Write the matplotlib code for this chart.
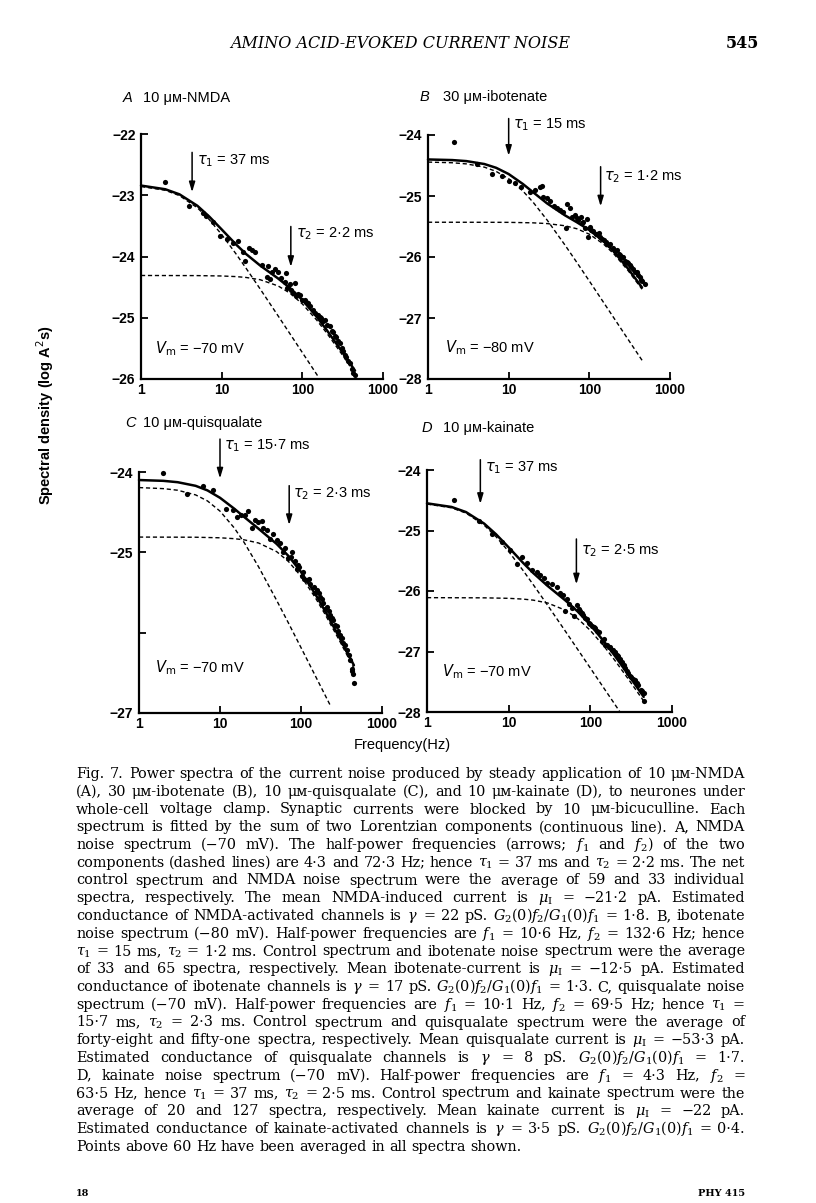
import matplotlib
matplotlib.use("Agg")
import matplotlib.pyplot as plt

W, H = 816, 1203

# ---------------- data ----------------
# Panel A: 10 uM-NMDA
A_pts_f = [2, 3.9, 5.9, 6.4, 7.9, 9.5, 11.8, 13.9, 16, 18.5, 19.3, 22, 24, 26, 31.8, 36, 38, 39.5, 41.6,
           45.5, 50, 55, 60.5, 63.5, 65, 70, 72, 77, 81, 84, 88, 93, 98, 107, 110, 118, 125, 136, 145,
           157, 165, 171, 180, 189, 200, 218, 230, 240, 255, 264, 280, 291, 310, 320, 340, 352, 370,
           387, 410, 426, 445]
A_pts_y = [-22.79, -23.17, -23.29, -23.34, -23.44, -23.66, -23.72, -23.78, -23.74, -23.92, -24.08, -23.86,
           -23.89, -23.92, -24.14, -24.33, -24.16, -24.37, -24.25, -24.21, -24.26, -24.35, -24.41, -24.27,
           -24.52, -24.45, -24.55, -24.60, -24.44, -24.65, -24.62, -24.63, -24.71, -24.71, -24.75, -24.76,
           -24.80, -24.87, -24.92, -24.95, -24.98, -25.01, -25.06, -25.04, -25.12, -25.14, -25.22, -25.23,
           -25.30, -25.31, -25.38, -25.42, -25.50, -25.55, -25.60, -25.64, -25.70, -25.74, -25.83, -25.91,
           -25.93]
A_fit_f = [1, 2, 3, 5, 7, 10, 15, 20, 30, 50, 70, 100, 150, 200, 300, 450]
A_fit_y = [-22.842, -22.902, -22.985, -23.172, -23.347, -23.558, -23.801, -23.958, -24.147, -24.358,
           -24.512, -24.709, -24.982, -25.198, -25.525, -25.864]
A_c1_f = [1, 2, 3, 5, 7, 10, 15, 20, 30, 50, 70, 100, 150, 160]
A_c1_y = [-22.857, -22.919, -23.006, -23.205, -23.396, -23.641, -23.954, -24.189, -24.530, -24.968,
          -25.259, -25.568, -25.920, -25.976]
A_c2_f = [1, 5, 10, 15, 20, 30, 50, 70, 100, 150, 200, 300, 450]
A_c2_y = [-24.310, -24.312, -24.318, -24.328, -24.342, -24.379, -24.480, -24.597, -24.774, -25.035,
          -25.247, -25.571, -25.909]

# Panel B: 30 uM-ibotenate
B_pts_f = [2.1, 4.1, 6.2, 8.2, 10.1, 12, 14.1, 18.5, 21, 24.5, 25.7, 27, 29.6, 32.6, 36, 39.6, 43.5, 47.7,
           51, 52.5, 57.6, 60.4, 66.4, 70, 73, 78, 80, 84, 88, 93, 97, 102, 105, 112, 120, 123, 130, 136,
           145, 150, 160, 164, 175, 181, 198, 210, 218, 230, 240, 250, 264, 280, 290, 300, 318, 330, 350,
           370, 385, 400, 424, 440, 456, 485]
B_pts_y = [-24.11, -24.48, -24.64, -24.67, -24.75, -24.78, -24.85, -24.93, -24.90, -24.85, -24.84, -25.01,
           -25.04, -25.09, -25.17, -25.20, -25.23, -25.26, -25.53, -25.13, -25.20, -25.35, -25.31, -25.36,
           -25.39, -25.34, -25.45, -25.42, -25.53, -25.37, -25.67, -25.50, -25.55, -25.58, -25.63, -25.62,
           -25.60, -25.67, -25.70, -25.72, -25.76, -25.78, -25.80, -25.79, -25.86, -25.90, -25.89, -25.95,
           -25.97, -26.00, -26.00, -26.06, -26.08, -26.10, -26.13, -26.16, -26.19, -26.25, -26.24, -26.30,
           -26.32, -26.38, -26.40, -26.44]
B_fit_f = [1, 2, 3, 5, 7, 10, 15, 20, 30, 50, 70, 100, 150, 200, 300, 450]
B_fit_y = [-24.401, -24.411, -24.428, -24.476, -24.538, -24.640, -24.803, -24.936, -25.122, -25.318,
           -25.430, -25.558, -25.742, -25.908, -26.186, -26.500]
B_c1_f = [1, 2, 3, 5, 7, 10, 15, 20, 30, 50, 70, 100, 150, 200, 300, 470]
B_c1_y = [-24.444, -24.455, -24.474, -24.527, -24.597, -24.717, -24.918, -25.099, -25.395, -25.806,
          -26.089, -26.394, -26.744, -26.993, -27.344, -27.73]
B_c2_f = [1, 5, 10, 20, 30, 50, 70, 100, 150, 200, 300, 450]
B_c2_y = [-25.430, -25.431, -25.432, -25.440, -25.452, -25.488, -25.537, -25.626, -25.788, -25.945,
          -26.217, -26.528]

# Panel C: 10 uM-quisqualate
C_pts_f = [2.0, 3.96, 6.1, 8.1, 11.9, 14.4, 16, 18, 20.4, 22.4, 24.6, 27, 29.8, 32.6, 34.3, 37.8, 41.5,
           45.6, 50, 55, 60.6, 63.6, 70, 75, 77, 84.7, 88.8, 92, 95.6, 102, 105, 109, 118, 125, 130, 143,
           150, 157, 165, 172, 180, 189, 200, 208, 220, 228, 240, 251, 265, 276, 290, 303, 320, 334, 350,
           367, 390, 403, 422, 430, 443, 455]
C_pts_y = [-24.01, -24.28, -24.17, -24.23, -24.46, -24.47, -24.56, -24.53, -24.53, -24.48, -24.70, -24.60,
           -24.62, -24.61, -24.70, -24.72, -24.83, -24.77, -24.85, -24.89, -25.00, -24.95, -25.07, -25.06,
           -24.99, -25.11, -25.21, -25.16, -25.18, -25.29, -25.25, -25.33, -25.35, -25.33, -25.39, -25.43,
           -25.50, -25.47, -25.51, -25.55, -25.58, -25.63, -25.70, -25.68, -25.73, -25.78, -25.82, -25.84,
           -25.90, -25.92, -25.98, -26.03, -26.07, -26.13, -26.15, -26.21, -26.28, -26.34, -26.48, -26.45,
           -26.52, -26.63]
C_fit_f = [1, 2, 3, 5, 7, 10, 15, 20, 30, 50, 70, 100, 150, 200, 300, 450]
C_fit_y = [-24.100, -24.110, -24.127, -24.172, -24.229, -24.321, -24.457, -24.562, -24.707, -24.895,
           -25.045, -25.244, -25.519, -25.737, -26.065, -26.406]
C_c1_f = [1, 2, 3, 5, 7, 10, 15, 20, 30, 50, 70, 100, 150, 200, 230]
C_c1_y = [-24.194, -24.207, -24.227, -24.285, -24.360, -24.487, -24.696, -24.882, -25.182, -25.597,
          -25.880, -26.186, -26.536, -26.785, -26.906]
C_c2_f = [1, 5, 10, 15, 20, 30, 50, 70, 100, 150, 200, 300, 450]
C_c2_y = [-24.810, -24.812, -24.819, -24.830, -24.845, -24.884, -24.991, -25.114, -25.297, -25.563,
          -25.778, -26.103, -26.443]

# Panel D: 10 uM-kainate
D_pts_f = [2.12, 4.3, 6.25, 8.3, 10.3, 12.6, 14.6, 16.7, 19.3, 22.2, 24.4, 26.8, 29.4, 33.8, 39, 42.8, 46,
           49, 51.5, 55.5, 59.4, 62.5, 68.5, 72, 75, 78, 81, 86.5, 90, 95, 100, 104, 110, 115, 120, 126,
           138, 145, 152, 160, 167, 175, 183, 190, 201, 210, 220, 230, 242, 255, 265, 280, 291, 305, 319,
           335, 350, 370, 386, 413, 430, 448, 458]
D_pts_y = [-24.49, -24.85, -25.06, -25.19, -25.33, -25.56, -25.44, -25.53, -25.66, -25.69, -25.73, -25.78,
           -25.86, -25.89, -25.94, -26.03, -26.07, -26.33, -26.14, -26.21, -26.28, -26.42, -26.23, -26.30,
           -26.33, -26.36, -26.39, -26.44, -26.47, -26.53, -26.55, -26.58, -26.60, -26.61, -26.66, -26.67,
           -26.83, -26.80, -26.89, -26.90, -26.92, -26.93, -26.97, -26.98, -27.00, -27.05, -27.08, -27.12,
           -27.17, -27.22, -27.28, -27.32, -27.36, -27.40, -27.42, -27.45, -27.47, -27.52, -27.56, -27.64,
           -27.66, -27.69, -27.81]
D_fit_f = [1, 2, 3, 5, 7, 10, 15, 20, 30, 50, 70, 100, 150, 200, 300, 450]
D_fit_y = [-24.551, -24.611, -24.695, -24.885, -25.062, -25.279, -25.534, -25.703, -25.916, -26.161,
           -26.339, -26.559, -26.849, -27.073, -27.407, -27.750]
D_c1_f = [1, 2, 3, 5, 7, 10, 15, 20, 30, 50, 70, 100, 150, 200, 230]
D_c1_y = [-24.563, -24.625, -24.712, -24.911, -25.102, -25.347, -25.660, -25.895, -26.236, -26.674,
          -26.965, -27.274, -27.626, -27.875, -27.997]
D_c2_f = [1, 5, 10, 15, 20, 30, 50, 70, 100, 150, 200, 300, 450]
D_c2_y = [-26.110, -26.113, -26.121, -26.134, -26.151, -26.198, -26.320, -26.456, -26.652, -26.928,
          -27.148, -27.478, -27.819]

X_TICKS = [1, 10, 100, 1000]
X_LABELS = ["1", "10", "100", "1000"]
A_YTICKS = [-22, -23, -24, -25, -26]
B_YTICKS = [-24, -25, -26, -27, -28]
C_YTICKS = [-24, -25, -26, -27]
C_YLABELS = ["\u221224", "\u221225", "", "\u221227"]
D_YTICKS = [-24, -25, -26, -27, -28]

UM = "\u03bc\u1d0d"  # micro + small-capital M
TITLES = [("A", "10 " + UM + "-NMDA"), ("B", "30 " + UM + "-ibotenate"),
          ("C", "10 " + UM + "-quisqualate"), ("D", "10 " + UM + "-kainate")]
TAU1 = ["37", "15", "15\u00b77", "37"]
TAU2 = ["2\u00b72", "1\u00b72", "2\u00b73", "2\u00b75"]
VM = ["\u221270", "\u221280", "\u221270", "\u221270"]

CAPTION = [
    "Fig. 7. Power spectra of the current noise produced by steady application of 10 " + UM + "-NMDA",
    "(A), 30 " + UM + "-ibotenate (B), 10 " + UM + "-quisqualate (C), and 10 " + UM + "-kainate (D), to neurones under",
    "whole-cell voltage clamp. Synaptic currents were blocked by 10 " + UM + "-bicuculline. Each",
    "spectrum is fitted by the sum of two Lorentzian components (continuous line). A, NMDA",
    "noise spectrum (\u221270 mV). The half-power frequencies (arrows; $f_1$ and $f_2$) of the two",
    "components (dashed lines) are 4\u00b73 and 72\u00b73 Hz; hence $\\tau_1$ = 37 ms and $\\tau_2$ = 2\u00b72 ms. The net",
    "control spectrum and NMDA noise spectrum were the average of 59 and 33 individual",
    "spectra, respectively. The mean NMDA-induced current is $\\mu_\\mathrm{I}$ = \u221221\u00b72 pA. Estimated",
    "conductance of NMDA-activated channels is $\\gamma$ = 22 pS. $G_2(0)f_2/G_1(0)f_1$ = 1\u00b78. B, ibotenate",
    "noise spectrum (\u221280 mV). Half-power frequencies are $f_1$ = 10\u00b76 Hz, $f_2$ = 132\u00b76 Hz; hence",
    "$\\tau_1$ = 15 ms, $\\tau_2$ = 1\u00b72 ms. Control spectrum and ibotenate noise spectrum were the average",
    "of 33 and 65 spectra, respectively. Mean ibotenate-current is $\\mu_\\mathrm{I}$ = \u221212\u00b75 pA. Estimated",
    "conductance of ibotenate channels is $\\gamma$ = 17 pS. $G_2(0)f_2/G_1(0)f_1$ = 1\u00b73. C, quisqualate noise",
    "spectrum (\u221270 mV). Half-power frequencies are $f_1$ = 10\u00b71 Hz, $f_2$ = 69\u00b75 Hz; hence $\\tau_1$ =",
    "15\u00b77 ms, $\\tau_2$ = 2\u00b73 ms. Control spectrum and quisqualate spectrum were the average of",
    "forty-eight and fifty-one spectra, respectively. Mean quisqualate current is $\\mu_\\mathrm{I}$ = \u221253\u00b73 pA.",
    "Estimated conductance of quisqualate channels is $\\gamma$ = 8 pS. $G_2(0)f_2/G_1(0)f_1$ = 1\u00b77.",
    "D, kainate noise spectrum (\u221270 mV). Half-power frequencies are $f_1$ = 4\u00b73 Hz, $f_2$ =",
    "63\u00b75 Hz, hence $\\tau_1$ = 37 ms, $\\tau_2$ = 2\u00b75 ms. Control spectrum and kainate spectrum were the",
    "average of 20 and 127 spectra, respectively. Mean kainate current is $\\mu_\\mathrm{I}$ = \u221222 pA.",
    "Estimated conductance of kainate-activated channels is $\\gamma$ = 3\u00b75 pS. $G_2(0)f_2/G_1(0)f_1$ = 0\u00b74.",
    "Points above 60 Hz have been averaged in all spectra shown.",
]

# ---------------- layout ----------------
SANS = ["Liberation Sans", "DejaVu Sans"]
SERIF = ["DejaVu Serif", "DejaVu Sans"]

fig = plt.figure(figsize=(W / 100, H / 100), dpi=100)


def rect(l, t, r, b):
    return [l / W, 1 - b / H, (r - l) / W, (b - t) / H]


def fx(px):
    return px / W


def fy(py):
    return 1 - py / H


panels = [
    dict(r=rect(141, 134, 383, 379), yl=(-26, -22), yt=A_YTICKS, ylab=None,
         pts=(A_pts_f, A_pts_y), fit=(A_fit_f, A_fit_y), c1=(A_c1_f, A_c1_y), c2=(A_c2_f, A_c2_y),
         ar1=(4.3, -22.30, -22.95), t1=(4.9, -22.44), ar2=(72, -23.51, -24.17), t2=(84, -23.63),
         vm=(1.49, -25.50), title=(123, 143, 98)),
    dict(r=rect(428, 135, 670, 379), yl=(-28, -24), yt=B_YTICKS, ylab=None,
         pts=(B_pts_f, B_pts_y), fit=(B_fit_f, B_fit_y), c1=(B_c1_f, B_c1_y), c2=(B_c2_f, B_c2_y),
         ar1=(10, -23.73, -24.34), t1=(11.4, -23.83), ar2=(138, -24.52, -25.17), t2=(150, -24.68),
         vm=(1.64, -27.49), title=(420, 443, 97)),
    dict(r=rect(139, 472, 382, 713), yl=(-27, -24), yt=C_YTICKS, ylab=C_YLABELS,
         pts=(C_pts_f, C_pts_y), fit=(C_fit_f, C_fit_y), c1=(C_c1_f, C_c1_y), c2=(C_c2_f, C_c2_y),
         ar1=(10, -23.59, -24.08), t1=(11.3, -23.67), ar2=(71.5, -24.17, -24.66), t2=(80, -24.27),
         vm=(1.58, -26.44), title=(125, 143, 423)),
    dict(r=rect(427, 470, 672, 712), yl=(-28, -24), yt=D_YTICKS, ylab=None,
         pts=(D_pts_f, D_pts_y), fit=(D_fit_f, D_fit_y), c1=(D_c1_f, D_c1_y), c2=(D_c2_f, D_c2_y),
         ar1=(4.5, -23.83, -24.56), t1=(5.1, -23.96), ar2=(67.5, -25.14, -25.89), t2=(76, -25.34),
         vm=(1.53, -27.33), title=(422, 443, 428)),
]

for i, p in enumerate(panels):
    ax = fig.add_axes(p["r"])
    ax.set_xscale("log")
    ax.set_xlim(1, 1000)
    ax.set_ylim(*p["yl"])
    for s in ("top", "right"):
        ax.spines[s].set_visible(False)
    for s in ("left", "bottom"):
        ax.spines[s].set_linewidth(1.6)
    ax.set_xticks(X_TICKS)
    ax.set_xticklabels(X_LABELS)
    ax.minorticks_off()
    ax.set_yticks(p["yt"])
    if p["ylab"] is None:
        ax.set_yticklabels(["\u2212%d" % abs(v) for v in p["yt"]])
    else:
        ax.set_yticklabels(p["ylab"])
    ax.tick_params(direction="in", length=5, width=1.3, labelsize=10, pad=4)
    ax.tick_params(axis="x", pad=3)
    for lab in ax.get_xticklabels() + ax.get_yticklabels():
        lab.set_family(SANS)
        lab.set_fontweight("bold")

    ax.plot(*p["c1"], ls=(0, (3.0, 2.0)), color="k", lw=1.0, clip_on=False)
    ax.plot(*p["c2"], ls=(0, (3.0, 2.0)), color="k", lw=1.0, clip_on=False)
    ax.plot(*p["fit"], color="k", lw=1.8, clip_on=False, solid_capstyle="round")
    ax.scatter(*p["pts"], s=14, color="k", linewidths=0, clip_on=False, zorder=3)

    for key in ("ar1", "ar2"):
        f, y0, y1 = p[key]
        ax.annotate("", xy=(f, y1), xytext=(f, y0), annotation_clip=False,
                    arrowprops=dict(arrowstyle="-|>,head_length=0.6,head_width=0.18", lw=1.1,
                                    color="k", shrinkA=0, shrinkB=0))
    ax.text(*p["t1"], "$\\tau_1$ = %s ms" % TAU1[i], fontsize=10.5, family=SANS, va="center",
            ha="left", clip_on=False)
    ax.text(*p["t2"], "$\\tau_2$ = %s ms" % TAU2[i], fontsize=10.5, family=SANS, va="center",
            ha="left", clip_on=False)
    ax.text(*p["vm"], "$V_\\mathrm{m}$ = %s mV" % VM[i], fontsize=10.5, family=SANS, va="center",
            ha="left")

    lx, tx, ty = p["title"]
    fig.text(fx(lx), fy(ty), TITLES[i][0], fontsize=10.5, family=SANS, style="italic",
             va="center", ha="left")
    fig.text(fx(tx), fy(ty), TITLES[i][1], fontsize=10.5, family=SANS, va="center", ha="left")

fig.text(fx(45), fy(415), "Spectral density (log A$^2$s)", rotation=90, fontsize=10.5, family=SANS,
         fontweight="bold", ha="center", va="center")
fig.text(fx(402), fy(745), "Frequency(Hz)", fontsize=10.5, family=SANS, ha="center", va="center")

# header / footer
fig.text(fx(400), fy(43), "AMINO ACID-EVOKED CURRENT NOISE", fontsize=11.5, family=SERIF,
         style="italic", ha="center", va="center")
fig.text(fx(742), fy(43), "545", fontsize=11.5, family=SERIF, fontweight="bold", ha="center", va="center")
fig.text(fx(76), fy(1193), "18", fontsize=7, family=SERIF, fontweight="bold", ha="left", va="center")
fig.text(fx(745), fy(1193), "PHY 415", fontsize=7, family=SERIF, fontweight="bold", ha="right",
         va="center")

# caption, justified line by line
renderer = fig.canvas.get_renderer()
X0, X1 = 76, 745
Y0, DY = 778, 17.75
FS = 10.4
MIN_GAP = 3.2


def make_words(line, fs):
    out = []
    for w in line.split(" "):
        t = fig.text(0, 0, w, fontsize=fs, family=SERIF, math_fontfamily="dejavuserif",
                     ha="left", va="baseline")
        out.append(t)
    return out


for i, line in enumerate(CAPTION):
    ts = make_words(line, FS)
    ws = [t.get_window_extent(renderer).width for t in ts]
    natural = sum(ws) + MIN_GAP * (len(ws) - 1)
    if natural > (X1 - X0):
        scale = (X1 - X0 - MIN_GAP * (len(ws) - 1)) / sum(ws)
        for t in ts:
            t.set_fontsize(FS * scale)
        ws = [t.get_window_extent(renderer).width for t in ts]
    if i == len(CAPTION) - 1:
        gap = 0.32 * FS * 100 / 72
    else:
        gap = (X1 - X0 - sum(ws)) / (len(ws) - 1)
    x = X0
    for t, w in zip(ts, ws):
        t.set_position((fx(x), fy(Y0 + i * DY)))
        x += w + gap

fig.savefig("out.png", dpi=100)
